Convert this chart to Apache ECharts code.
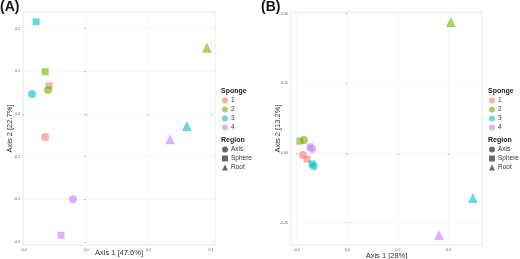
<!DOCTYPE html>
<html>
<head>
<meta charset="utf-8">
<script src="https://cdn.jsdelivr.net/npm/echarts@6/dist/echarts.min.js"></script>
<style>
  html, body { margin: 0; padding: 0; background: #fff; }
  #chart { width: 520px; height: 259px; }
</style>
</head>
<body>
<div id="chart"></div>
<script>
// legend groups
const sponges = ['1', '2', '3', '4'];
const regions = ['Axis', 'Sphere', 'Root'];
const spongeColors = ['#F8766D', '#7CAE00', '#00BFC4', '#C77CFF'];
const regionSymbols = { Axis: 'circle', Sphere: 'rect', Root: 'triangle' };

// panel (A)
const aSponge = ['3', '2', '2', '1', '2', '3', '3', '1', '4', '4', '4'];
const aRegion = ['Sphere', 'Root', 'Sphere', 'Sphere', 'Axis', 'Axis', 'Root', 'Axis', 'Root', 'Axis', 'Sphere'];
const aAxis1 = [-0.160, 0.387, -0.131, -0.118, -0.122, -0.173, 0.323, -0.131, 0.269, -0.042, -0.080];
const aAxis2 = [0.216, 0.155, 0.099, 0.066, 0.056, 0.047, -0.028, -0.054, -0.059, -0.200, -0.284];
const aXTicks = [-0.2, 0.0, 0.2, 0.4];
const aYTicks = [-0.3, -0.2, -0.1, 0.0, 0.1, 0.2];

// panel (B)
const bSponge = ['2', '2', '2', '4', '4', '1', '1', '3', '3', '3', '4'];
const bRegion = ['Root', 'Sphere', 'Axis', 'Sphere', 'Axis', 'Axis', 'Sphere', 'Sphere', 'Axis', 'Root', 'Root'];
const bAxis1 = [0.409, -0.187, -0.171, -0.147, -0.139, -0.175, -0.159, -0.139, -0.132, 0.496, 0.362];
const bAxis2 = [0.470, 0.043, 0.047, 0.022, 0.014, -0.007, -0.022, -0.039, -0.047, -0.161, -0.294];
const bXTicks = [-0.2, 0.0, 0.2, 0.4];
const bYTicks = [-0.25, 0.0, 0.25, 0.5];

var myChart = echarts.init(document.getElementById('chart'));

function makeAxis(gridIndex, min, max, ticks, decimals, name, nameGap) {
    return {
        type: 'value',
        gridIndex: gridIndex,
        min: min,
        max: max,
        name: name,
        nameLocation: 'middle',
        nameGap: nameGap,
        nameMoveOverlap: false,
        nameTextStyle: { fontSize: 7.5, color: '#333' },
        axisLine: { show: false },
        axisTick: { show: true, length: 2, customValues: ticks, lineStyle: { color: '#999', width: 0.5 } },
        axisLabel: {
            customValues: ticks,
            fontSize: 3.5,
            color: '#555',
            margin: 3,
            formatter: function (v) { return v.toFixed(decimals); }
        },
        splitLine: { show: true, lineStyle: { color: '#f1f1f1', width: 0.6 } }
    };
}

// one series per sponge per panel, shape from region
function panelSeries(gridIdx, spongeArr, regionArr, xs, ys) {
    return sponges.map(function (s, i) {
        var data = [];
        for (var k = 0; k < spongeArr.length; k++) {
            if (spongeArr[k] !== s) continue;
            var sym = regionSymbols[regionArr[k]];
            data.push({
                value: [xs[k], ys[k]],
                symbol: sym,
                symbolSize: sym === 'triangle' ? 10 : (sym === 'rect' ? 7 : 8)
            });
        }
        return {
            name: s,
            type: 'scatter',
            xAxisIndex: gridIdx,
            yAxisIndex: gridIdx,
            data: data,
            itemStyle: { color: spongeColors[i], opacity: 0.6 }
        };
    });
}

// empty series so the Region legend has entries
function regionSeries(gridIdx) {
    return regions.map(function (r) {
        return {
            name: r,
            type: 'scatter',
            xAxisIndex: gridIdx,
            yAxisIndex: gridIdx,
            data: [],
            itemStyle: { color: '#444' }
        };
    });
}

function legends(left) {
    var common = {
        orient: 'vertical',
        left: left,
        itemWidth: 6,
        itemHeight: 6,
        itemGap: 2,
        padding: 0,
        selectedMode: false,
        textStyle: { fontSize: 6.5, color: '#333', padding: [0, 0, 0, -2] }
    };
    return [
        Object.assign({}, common, {
            top: 97,
            icon: 'circle',
            data: sponges,
            itemStyle: { opacity: 0.6 }
        }),
        Object.assign({}, common, {
            top: 146,
            data: regions.map(function (r) { return { name: r, icon: regionSymbols[r] }; })
        })
    ];
}

var titleFont = { fontSize: 7, fontWeight: 'bold', color: '#222' };

var gridBase = { top: 12, height: 233, show: true, borderColor: '#e3e3e3', borderWidth: 0.8, backgroundColor: '#fff', containLabel: false, outerBoundsMode: 'none' };

var option = {
    backgroundColor: '#fff',
    animation: false,
    textStyle: { fontFamily: 'Liberation Sans' },
    title: [
        { text: '(A)', left: 0, top: 0, padding: 0, textStyle: { fontSize: 14, fontWeight: 'bold', color: '#111' } },
        { text: '(B)', left: 261, top: 0, padding: 0, textStyle: { fontSize: 14, fontWeight: 'bold', color: '#111' } },
        { text: 'Sponge', left: 221, top: 88, padding: 0, textStyle: titleFont },
        { text: 'Region', left: 221, top: 137, padding: 0, textStyle: titleFont },
        { text: 'Sponge', left: 488, top: 88, padding: 0, textStyle: titleFont },
        { text: 'Region', left: 488, top: 137, padding: 0, textStyle: titleFont }
    ],
    grid: [
        Object.assign({}, gridBase, { left: 23, width: 192 }),
        Object.assign({}, gridBase, { left: 291, width: 191 })
    ],
    xAxis: [
        makeAxis(0, -0.202, 0.413, aXTicks, 1, 'Axis 1 [47.6%]', 4),
        makeAxis(1, -0.222, 0.532, bXTicks, 1, 'Axis 1 [28%]', 7)
    ],
    yAxis: [
        makeAxis(0, -0.307, 0.239, aYTicks, 1, 'Axis 2 [22.7%]', 9),
        makeAxis(1, -0.330, 0.506, bYTicks, 2, 'Axis 2 [13.2%]', 9)
    ],
    legend: legends(222).concat(legends(489)),
    series: panelSeries(0, aSponge, aRegion, aAxis1, aAxis2)
        .concat(panelSeries(1, bSponge, bRegion, bAxis1, bAxis2))
        .concat(regionSeries(0))
        .concat(regionSeries(1))
};

myChart.setOption(option);
</script>
</body>
</html>
